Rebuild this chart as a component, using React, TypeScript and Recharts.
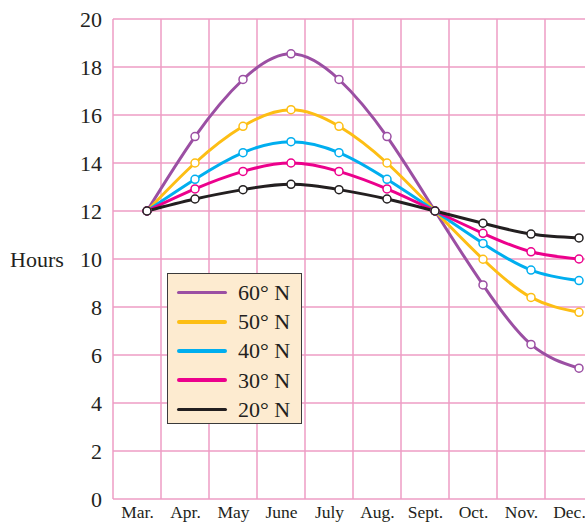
import React from "react";
import {
  LineChart,
  Line,
  XAxis,
  YAxis,
  CartesianGrid,
} from "recharts";

const months = ["Mar.", "Apr.", "May", "June", "July", "Aug.", "Sept.", "Oct.", "Nov.", "Dec."];
const hourTicks = [0, 2, 4, 6, 8, 10, 12, 14, 16, 18, 20];

const lat60 = [12, 15.1, 17.48, 18.55, 17.48, 15.1, 12, 8.92, 6.44, 5.45];
const lat50 = [12, 14.0, 15.53, 16.22, 15.53, 14.0, 12, 9.99, 8.4, 7.78];
const lat40 = [12, 13.32, 14.43, 14.89, 14.43, 13.32, 12, 10.65, 9.54, 9.1];
const lat30 = [12, 12.92, 13.65, 14.0, 13.65, 12.92, 12, 11.07, 10.3, 10.0];
const lat20 = [12, 12.5, 12.89, 13.11, 12.89, 12.5, 12, 11.49, 11.04, 10.88];

const series = [
  { key: "lat60", name: "60° N", color: "#9B4FA3", values: lat60 },
  { key: "lat50", name: "50° N", color: "#FDBE14", values: lat50 },
  { key: "lat40", name: "40° N", color: "#00AEEF", values: lat40 },
  { key: "lat30", name: "30° N", color: "#EC008C", values: lat30 },
  { key: "lat20", name: "20° N", color: "#231F20", values: lat20 },
];

// grid lines sit 34px (of a 48px month) left of the data points
const GRID_SHIFT = 34 / 48;
const gridTicks = Array.from({ length: 11 }, (_, k) => k - GRID_SHIFT);

const data = months.map((m, i) => {
  const row: Record<string, number | string> = { x: i, month: m };
  series.forEach((s) => {
    row[s.key] = s.values[i];
  });
  return row;
});

const FONT = "'Liberation Serif', 'Times New Roman', serif";

function MonthTick(props: any) {
  const { x, y, payload } = props;
  const k = Math.round(payload.value + GRID_SHIFT);
  const label = months[k];
  if (!label) return null;
  return (
    <text x={x + 24.5} y={y + 11} textAnchor="middle" fontSize={17.5} fill="#231F20" fontFamily={FONT}>
      {label}
    </text>
  );
}

export default function App() {
  return (
    <div
      style={{
        position: "fixed",
        left: 0,
        top: 0,
        width: 585,
        height: 522,
        overflow: "hidden",
        background: "#fff",
        fontFamily: FONT,
      }}
    >
      <LineChart
        width={620}
        height={540}
        data={data}
        margin={{ top: 19, right: 0, bottom: 0, left: 0 }}
      >
        <CartesianGrid stroke="#EE9CC4" strokeWidth={1.5} />
        <XAxis
          dataKey="x"
          type="number"
          domain={[-GRID_SHIFT, 507 / 48 - GRID_SHIFT]}
          ticks={gridTicks}
          tick={<MonthTick />}
          tickLine={false}
          axisLine={false}
          height={41}
          interval={0}
          allowDataOverflow
        />
        <YAxis
          domain={[0, 20]}
          ticks={hourTicks}
          width={113}
          interval={0}
          tickLine={false}
          axisLine={false}
          tickSize={0}
          tickMargin={11}
          tick={{ fontSize: 22, fill: "#231F20", fontFamily: FONT }}
          label={{
            value: "Hours",
            position: "insideLeft",
            offset: 10,
            fontSize: 22,
            fill: "#231F20",
            fontFamily: FONT,
          }}
        />
        {series.map((s) => (
          <Line
            key={s.key}
            dataKey={s.key}
            name={s.name}
            type="natural"
            stroke={s.color}
            strokeWidth={3}
            dot={{ r: 4, fill: "#fff", stroke: s.color, strokeWidth: 1.5 }}
            activeDot={false}
            isAnimationActive={false}
          />
        ))}
      </LineChart>
      <div
        style={{
          position: "absolute",
          left: 167,
          top: 273,
          width: 135,
          height: 151,
          boxSizing: "border-box",
          background: "#FDEBD0",
          border: "1.5px solid #3a3a3a",
          paddingTop: 4,
        }}
      >
        {series.map((s) => (
          <div
            key={s.key}
            style={{ display: "flex", alignItems: "center", height: 29.2 }}
          >
            <div
              style={{
                marginLeft: 9,
                width: 50,
                height: 3.5,
                borderRadius: 2,
                background: s.color,
              }}
            />
            <span
              style={{
                marginLeft: 11,
                fontSize: 22,
                color: "#231F20",
                lineHeight: "29px",
              }}
            >
              {s.name}
            </span>
          </div>
        ))}
      </div>
    </div>
  );
}
